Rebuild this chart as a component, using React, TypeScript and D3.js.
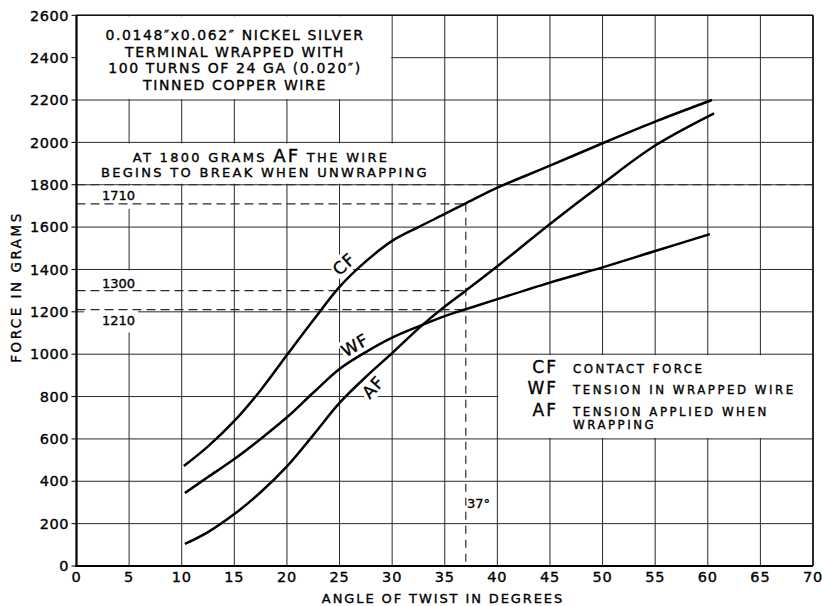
import React from "react";
import * as d3 from "d3";

const cfAngle = [10.2, 12.5, 15, 17.5, 20, 22.5, 25, 27.5, 30, 32.5, 35, 37, 40, 45, 50, 55, 60.4];
const cfForce = [472, 565, 685, 830, 996, 1160, 1318, 1438, 1535, 1600, 1662, 1712, 1786, 1890, 1996, 2098, 2200];
const wfAngle = [10.3, 12.5, 15, 17.5, 20, 22.5, 25, 27.5, 30, 32.7, 35, 37, 40, 45, 50, 55, 60.2];
const wfForce = [345, 420, 505, 600, 702, 818, 930, 1010, 1078, 1135, 1180, 1212, 1260, 1338, 1410, 1487, 1567];
const afAngle = [10.3, 12.5, 15, 17.5, 20, 22.5, 25, 27.5, 30, 32.7, 35, 37, 40, 45, 50, 55, 60.6];
const afForce = [104, 160, 245, 348, 470, 618, 770, 893, 1005, 1130, 1225, 1300, 1415, 1615, 1805, 1985, 2137];

const xTicks = [0, 5, 10, 15, 20, 25, 30, 35, 40, 45, 50, 55, 60, 65, 70];
const yTicks = [0, 200, 400, 600, 800, 1000, 1200, 1400, 1600, 1800, 2000, 2200, 2400, 2600];

const noteLines = [
  "0.0148\u2033x0.062\u2033 NICKEL SILVER",
  "TERMINAL WRAPPED WITH",
  "100 TURNS OF 24 GA (0.020\u2033)",
  "TINNED COPPER WIRE",
];
const legendItems = [
  { code: "CF", text: ["CONTACT FORCE"] },
  { code: "WF", text: ["TENSION IN WRAPPED WIRE"] },
  { code: "AF", text: ["TENSION APPLIED WHEN", "WRAPPING"] },
];
const cfRef = [37, 1710];
const afRef = [37, 1300];
const wfRef = [37, 1210];
const breakForce = 1800;

const FONT = "DejaVu Sans";

export default function App() {
  const x = d3.scaleLinear().domain([0, 70]).range([76.5, 813]);
  const y = d3.scaleLinear().domain([0, 2600]).range([566, 15.3]);
  const line = d3
    .line<[number, number]>()
    .x((d) => x(d[0]))
    .y((d) => y(d[1]))
    .curve(d3.curveCatmullRom.alpha(0.5));
  const zip = (a: number[], b: number[]) => a.map((v, i) => [v, b[i]] as [number, number]);

  const grid = "#2a2a2a";
  const dash = "9,5";

  const blanks = [
    [0, 30, 2200, 2600],
    [0, 34.85, 1800, 2000],
    [40, 70, 600, 1000],
  ];

  return (
    <svg
      width={822}
      height={606}
      style={{ position: "absolute", left: 0, top: 0, background: "#fff" }}
      fontFamily={FONT}
    >
      <rect x={0} y={0} width={822} height={606} fill="#fff" />
      {xTicks.map((t) => (
        <line key={"gx" + t} x1={x(t)} x2={x(t)} y1={y(2600)} y2={y(0)} stroke={grid} strokeWidth={1} />
      ))}
      {yTicks.map((t) => (
        <line key={"gy" + t} x1={x(0)} x2={x(70)} y1={y(t)} y2={y(t)} stroke={grid} strokeWidth={1} />
      ))}
      {blanks.map((b, i) => (
        <rect
          key={"b" + i}
          x={x(b[0]) + 1}
          y={y(b[3]) + 1}
          width={x(b[1]) - x(b[0]) - 2}
          height={y(b[2]) - y(b[3]) - 2}
          fill="#fff"
        />
      ))}
      <rect x={95} y={y(1800) + 1} width={45} height={y(1710) - y(1800) + 4} fill="#fff" />
      <rect x={84} y={y(1400) + 1} width={54} height={62} fill="#fff" />
      <rect x={-13} y={-10} width={26} height={20} fill="#fff" transform={`translate(344,264) rotate(-42)`} />
      <rect x={-15} y={-10} width={30} height={20} fill="#fff" transform={`translate(355,345) rotate(-30)`} />
      <rect x={-13} y={-10} width={26} height={20} fill="#fff" transform={`translate(373,387) rotate(-48)`} />

      <line x1={x(0)} x2={x(70)} y1={y(breakForce)} y2={y(breakForce)} stroke={grid} strokeWidth={1.2} strokeDasharray={dash} />
      <line x1={x(0)} x2={x(cfRef[0])} y1={y(cfRef[1])} y2={y(cfRef[1])} stroke={grid} strokeWidth={1.2} strokeDasharray={dash} />
      <line x1={x(0)} x2={x(afRef[0])} y1={y(afRef[1])} y2={y(afRef[1])} stroke={grid} strokeWidth={1.2} strokeDasharray={dash} />
      <line x1={x(0)} x2={x(wfRef[0])} y1={y(wfRef[1])} y2={y(wfRef[1])} stroke={grid} strokeWidth={1.2} strokeDasharray={dash} />
      <line x1={x(cfRef[0])} x2={x(cfRef[0])} y1={y(cfRef[1])} y2={y(0)} stroke={grid} strokeWidth={1.2} strokeDasharray="8,6" />

      <path d={line(zip(cfAngle, cfForce)) || ""} fill="none" stroke="#000" strokeWidth={2.5} />
      <path d={line(zip(wfAngle, wfForce)) || ""} fill="none" stroke="#000" strokeWidth={2.5} />
      <path d={line(zip(afAngle, afForce)) || ""} fill="none" stroke="#000" strokeWidth={2.5} />

      <line x1={x(0)} x2={x(70)} y1={y(2600)} y2={y(2600)} stroke="#111" strokeWidth={1.6} />
      <line x1={x(70)} x2={x(70)} y1={y(2600)} y2={y(0)} stroke="#111" strokeWidth={1.6} />
      <line x1={x(0)} x2={x(0)} y1={y(2600)} y2={y(0) + 1} stroke="#000" strokeWidth={2.2} />
      <line x1={x(0) - 1} x2={x(70)} y1={y(0)} y2={y(0)} stroke="#000" strokeWidth={2.2} />
      {yTicks.map((t) => (
        <line key={"ytl" + t} x1={x(0) - 5} x2={x(0)} y1={y(t)} y2={y(t)} stroke="#000" strokeWidth={1} />
      ))}

      <g fill="#000" stroke="#000" strokeWidth={0.35}>
        <text transform="translate(344,264) rotate(-42)" textAnchor="middle" dy="0.36em" fontSize={17} letterSpacing={1}>CF</text>
        <text transform="translate(355,345) rotate(-30)" textAnchor="middle" dy="0.36em" fontSize={17} letterSpacing={1}>WF</text>
        <text transform="translate(373,387) rotate(-48)" textAnchor="middle" dy="0.36em" fontSize={17} letterSpacing={1}>AF</text>

        {yTicks.map((t) => (
          <text key={"yt" + t} x={69} y={y(t)} dy="0.36em" textAnchor="end" fontSize={14.5} letterSpacing={0.5}>{t}</text>
        ))}
        {xTicks.map((t) => (
          <text key={"xt" + t} x={x(t)} y={582} textAnchor="middle" fontSize={14.5} letterSpacing={0.8}>{t}</text>
        ))}

        <text x={443} y={603} textAnchor="middle" fontSize={13} letterSpacing={1.9}>ANGLE OF TWIST IN DEGREES</text>
        <text transform="translate(21,287) rotate(-90)" textAnchor="middle" fontSize={13.5} letterSpacing={2.5}>FORCE IN GRAMS</text>

        {noteLines.map((s, i) => (
          <text key={"n" + i} x={235} y={[40, 57, 73, 90][i]} textAnchor="middle" fontSize={14} letterSpacing={1.6}>{s}</text>
        ))}
        <text x={261} y={162} textAnchor="middle" fontSize={13} letterSpacing={2.3}>
          AT 1800 GRAMS <tspan fontSize={18}>AF</tspan> THE WIRE
        </text>
        <text x={265} y={177} textAnchor="middle" fontSize={13} letterSpacing={2.3}>BEGINS TO BREAK WHEN UNWRAPPING</text>

        <text x={102} y={200} fontSize={13}>1710</text>
        <text x={102} y={288} fontSize={13}>1300</text>
        <text x={102} y={325} fontSize={13}>1210</text>
        <text x={467} y={508} fontSize={13}>37°</text>

        {legendItems.map((it, i) => (
          <g key={"l" + i}>
            <text x={558} y={[373, 394, 416][i]} textAnchor="end" fontSize={17} letterSpacing={2}>{it.code}</text>
            {it.text.map((s, j) => (
              <text key={j} x={573} y={[373, 394, 416][i] + j * 12.5} fontSize={11.8} letterSpacing={2.5}>{s}</text>
            ))}
          </g>
        ))}
      </g>
    </svg>
  );
}
